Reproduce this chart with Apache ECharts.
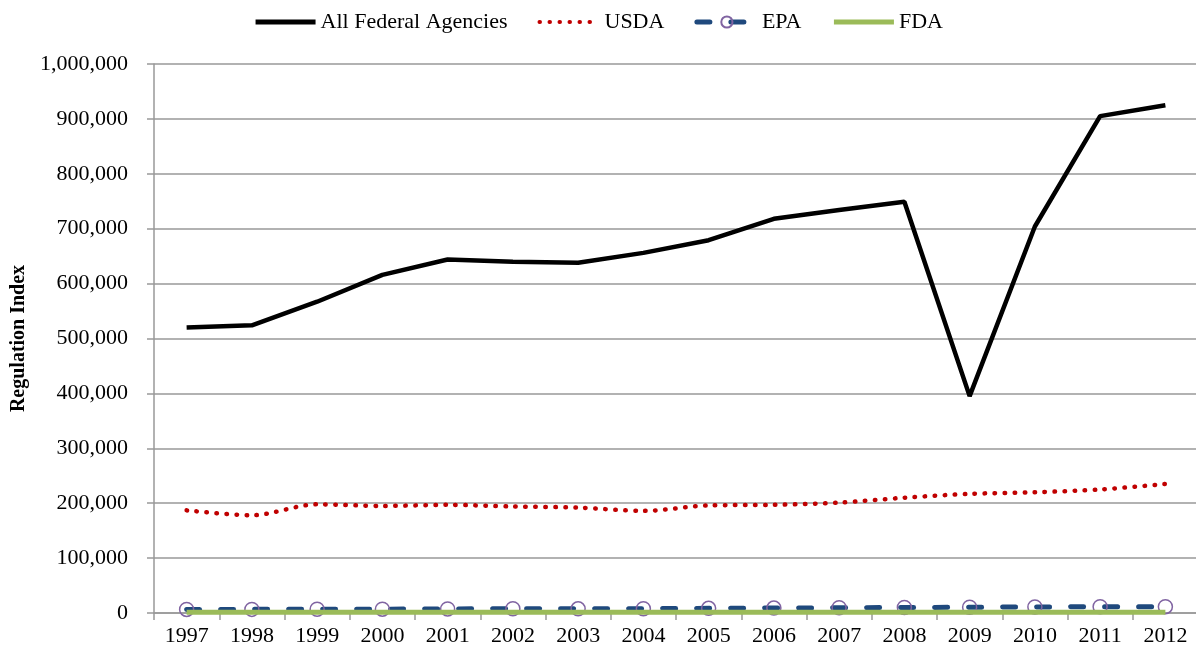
<!DOCTYPE html>
<html>
<head>
<meta charset="utf-8">
<script src="https://cdn.jsdelivr.net/npm/echarts@6/dist/echarts.min.js"></script>
<style>
  html, body { margin: 0; padding: 0; background: #fff; }
  #chart { width: 1196px; height: 652px; }
</style>
</head>
<body>
<div id="chart"></div>
<script>
// data
var years = ['1997', '1998', '1999', '2000', '2001', '2002', '2003', '2004',
             '2005', '2006', '2007', '2008', '2009', '2010', '2011', '2012'];
var allFederal = [520000, 524000, 567000, 616000, 644000, 640000, 638000, 656000,
                  679000, 718000, 734000, 749000, 395000, 704000, 905000, 925000];
var usda = [187000, 178000, 198000, 195000, 197000, 194000, 192000, 186000,
            196000, 197000, 201000, 210000, 217000, 220000, 225000, 235000];
var epa = [6500, 6600, 6800, 7000, 7400, 7800, 7600, 7800,
           8500, 9000, 9500, 10000, 10500, 11000, 11500, 11500];
var fda = [1500, 1500, 1500, 1500, 1500, 1500, 1500, 1500,
           1500, 1500, 1500, 1500, 1500, 1500, 1500, 1500];

var chart = echarts.init(document.getElementById('chart'));
var font = '"Liberation Serif", "Times New Roman", serif';
var hideDot = { opacity: 0 };

var option = {
  animation: false,
  textStyle: { fontFamily: font },
  legend: {
    top: 6,
    left: 'center',
    itemWidth: 60,
    itemHeight: 14,
    itemGap: 30,
    textStyle: { fontFamily: font, fontSize: 22, color: '#000' },
    data: [
      { name: 'All Federal Agencies', itemStyle: hideDot, lineStyle: { width: 5 } },
      { name: 'USDA', itemStyle: hideDot, lineStyle: { width: 4 } },
      { name: 'EPA', lineStyle: { width: 5 } },
      { name: 'FDA', itemStyle: hideDot, lineStyle: { width: 5 } }
    ]
  },
  grid: { left: 154, top: 64, width: 1044, height: 549, outerBoundsMode: 'none' },
  xAxis: {
    type: 'category',
    data: years,
    boundaryGap: true,
    axisLine: { lineStyle: { color: '#999', width: 1.5 } },
    axisTick: { show: true, length: 7, lineStyle: { color: '#999', width: 1.5 } },
    axisLabel: { fontFamily: font, fontSize: 22, color: '#000', margin: 12 }
  },
  yAxis: {
    type: 'value',
    min: 0,
    max: 1000000,
    interval: 100000,
    name: 'Regulation Index',
    nameLocation: 'middle',
    nameGap: 124,
    nameTextStyle: { fontFamily: font, fontSize: 20, fontWeight: 'bold', color: '#000' },
    axisLine: { show: true, lineStyle: { color: '#999', width: 1.5 } },
    axisTick: { show: true, length: 7, lineStyle: { color: '#999', width: 1.5 } },
    splitLine: { show: true, lineStyle: { color: '#999', width: 1.5 } },
    axisLabel: {
      fontFamily: font, fontSize: 22, color: '#000', margin: 26,
      formatter: function (v) { return v.toLocaleString('en-US'); }
    }
  },
  series: [
    {
      name: 'All Federal Agencies',
      type: 'line',
      data: allFederal,
      symbol: 'none',
      lineStyle: { color: '#000', width: 4.5 },
      itemStyle: { color: '#000' },
      z: 5
    },
    {
      name: 'USDA',
      type: 'line',
      data: usda,
      symbol: 'none',
      smooth: 0.3,
      lineStyle: { color: '#c00000', width: 4.5, type: [0.5, 9.5], cap: 'round' },
      itemStyle: { color: '#c00000' }
    },
    {
      name: 'EPA',
      type: 'line',
      data: epa,
      symbol: 'circle',
      symbolSize: 14,
      lineStyle: { color: '#1f497d', width: 5, type: [13, 21], cap: 'round' },
      itemStyle: { color: 'rgba(255,255,255,0)', borderColor: '#8064a2', borderWidth: 1.5 },
      z: 3
    },
    {
      name: 'FDA',
      type: 'line',
      data: fda,
      symbol: 'none',
      lineStyle: { color: '#9bbb59', width: 5 },
      itemStyle: { color: '#9bbb59' },
      z: 4
    }
  ]
};
chart.setOption(option);
</script>
</body>
</html>
